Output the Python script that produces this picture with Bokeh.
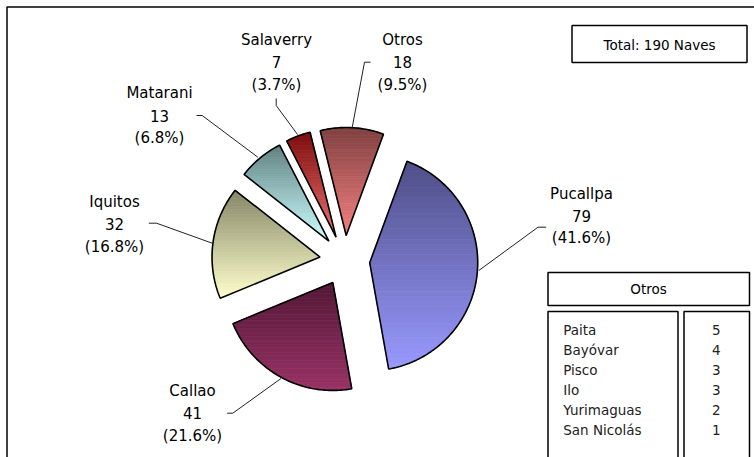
import math
from bokeh.plotting import figure
from bokeh.models import Range1d
from bokeh.embed import file_html
from bokeh.resources import INLINE
from bokeh.core.properties import value

# ---------------- data ----------------
categories = ["Pucallpa", "Callao", "Iquitos", "Matarani", "Salaverry", "Otros"]
counts = [79, 41, 32, 13, 7, 18]
otros_names = ["Paita", "Bayóvar", "Pisco", "Ilo", "Yurimaguas", "San Nicolás"]
otros_counts = [5, 4, 3, 3, 2, 1]
total_label = "Total: {} Naves"
otros_title = "Otros"

# gradient colours (top -> bottom) per slice
top_colors = [(78, 78, 135), (82, 24, 54), (133, 133, 104), (96, 128, 128), (125, 12, 12), (128, 64, 64)]
bottom_colors = [(153, 153, 255), (153, 51, 102), (255, 255, 204), (204, 255, 255), (236, 112, 112), (244, 128, 128)]

# ---------------- layout (screen pixels) ----------------
W, H = 754, 457
OX, OY = 0, 0
CX, CY = 344.3, 260.0   # pie centre
R = 108.0               # radius
EXPLODE = 25.0          # explosion distance
START = 20.2            # start angle, degrees clockwise from 12 o'clock

label_pos = {  # centre x, y of the middle line
    "Pucallpa": (581, 215.5),
    "Callao": (192, 412.7),
    "Iquitos": (114, 223.7),
    "Matarani": (159, 115.0),
    "Salaverry": (276, 61.7),
    "Otros": (402, 61.7),
}
leaders = {
    "Pucallpa": [(545.7, 226.7), (537.5, 226.7), (478.3, 270.0)],
    "Callao": [(226.7, 412.7), (232.3, 412.7), (280.5, 378.0)],
    "Iquitos": [(148.3, 222.7), (156.0, 222.7), (211.7, 242.7)],
    "Matarani": [(196.0, 115.0), (201.7, 115.0), (257.3, 156.7)],
    "Salaverry": [(275.7, 98.0), (275.7, 105.0), (297.0, 134.0)],
    "Otros": [(370.0, 61.7), (364.0, 61.7), (351.7, 127.0)],
}

p = figure(width=W, height=H, x_range=Range1d(OX, OX + W), y_range=Range1d(OY + H, OY),
           output_backend="svg", toolbar_location=None, min_border=0,
           x_axis_type=None, y_axis_type=None)
p.grid.visible = False
p.outline_line_color = None
p.background_fill_color = "white"
p.border_fill_color = "white"

# outer frame (left and top edges visible)
p.line(x=[6.5, 6.5, W + 10], y=[H + 10, 6.5, 6.5], line_color="black", line_width=1.5)


def clip_poly(poly, y0, y1):
    def clip(pts, keep, inter):
        out = []
        n = len(pts)
        for i in range(n):
            a = pts[i]
            b = pts[(i + 1) % n]
            ka, kb = keep(a), keep(b)
            if ka:
                out.append(a)
            if ka != kb:
                out.append(inter(a, b))
        return out

    def ix(a, b, yv):
        t = (yv - a[1]) / (b[1] - a[1])
        return (a[0] + t * (b[0] - a[0]), yv)

    pts = clip(poly, lambda q: q[1] >= y0, lambda a, b: ix(a, b, y0))
    if not pts:
        return []
    pts = clip(pts, lambda q: q[1] <= y1, lambda a, b: ix(a, b, y1))
    return pts


total = sum(counts)
band_xs, band_ys, band_cols = [], [], []
out_xs, out_ys = [], []
ang = START
for i, (cat, v) in enumerate(zip(categories, counts)):
    span = 360.0 * v / total
    a0, a1 = ang, ang + span
    mid = math.radians((a0 + a1) / 2)
    ax = CX + EXPLODE * math.sin(mid)
    ay = CY - EXPLODE * math.cos(mid)
    poly = [(ax, ay)]
    steps = max(8, int(span))
    for k in range(steps + 1):
        t = math.radians(a0 + span * k / steps)
        poly.append((ax + R * math.sin(t), ay - R * math.cos(t)))
    out_xs.append([q[0] for q in poly])
    out_ys.append([q[1] for q in poly])
    ymin = min(q[1] for q in poly)
    ymax = max(q[1] for q in poly)
    nb = 40
    for b in range(nb):
        y0 = ymin + (ymax - ymin) * b / nb
        y1 = ymin + (ymax - ymin) * (b + 1) / nb
        piece = clip_poly(poly, y0, y1)
        if len(piece) < 3:
            continue
        f = (b + 0.5) / nb
        c = tuple(int(round(top_colors[i][j] + (bottom_colors[i][j] - top_colors[i][j]) * f)) for j in range(3))
        band_xs.append([q[0] for q in piece])
        band_ys.append([q[1] for q in piece])
        band_cols.append("#%02x%02x%02x" % c)
    ang = a1

p.patches(xs=band_xs, ys=band_ys, fill_color=band_cols, line_color=band_cols, line_width=0.8)
p.patches(xs=out_xs, ys=out_ys, fill_alpha=0, line_color="black", line_width=1.6)

# leader lines
p.multi_line(xs=[[q[0] for q in leaders[c]] for c in categories],
             ys=[[q[1] for q in leaders[c]] for c in categories],
             line_color="#222222", line_width=1)

# slice labels
lx, ly, lt = [], [], []
LS = 22.3
for cat, v in zip(categories, counts):
    x, y = label_pos[cat]
    for k, s in enumerate([cat, str(v), "(%.1f%%)" % (100.0 * v / total)]):
        lx.append(x)
        ly.append(y + (k - 1) * LS)
        lt.append(s)
p.text(x=lx, y=ly, text=lt, text_font=value("DejaVu Sans"), text_font_size="15px",
       text_align="center", text_baseline="middle", text_color="black")

# boxes
p.quad(left=[571.5, 547.5, 547.5, 683.5], right=[746.5, 749.0, 677.5, 749.0],
       top=[25.0, 272.0, 311.0, 311.0], bottom=[62.0, 305.0, 480.0, 480.0],
       fill_color="white", line_color="black", line_width=1.5)

p.text(x=[659], y=[44], text=[total_label.format(total)], text_font=value("DejaVu Sans"),
       text_font_size="13.5px", text_align="center", text_baseline="middle", text_color="black")
p.text(x=[648], y=[288.5], text=[otros_title], text_font=value("DejaVu Sans"),
       text_font_size="13.5px", text_align="center", text_baseline="middle", text_color="black")

row_y = [329.3 + 20 * k for k in range(len(otros_names))]
p.text(x=[562.7] * len(otros_names), y=row_y, text=otros_names, text_font=value("DejaVu Sans"),
       text_font_size="13.5px", text_align="left", text_baseline="middle", text_color="#222222")
p.text(x=[715.7] * len(otros_counts), y=row_y, text=[str(c) for c in otros_counts],
       text_font=value("DejaVu Sans"), text_font_size="13.5px", text_align="center",
       text_baseline="middle", text_color="#222222")

open("out.html", "w").write(file_html(p, INLINE))
